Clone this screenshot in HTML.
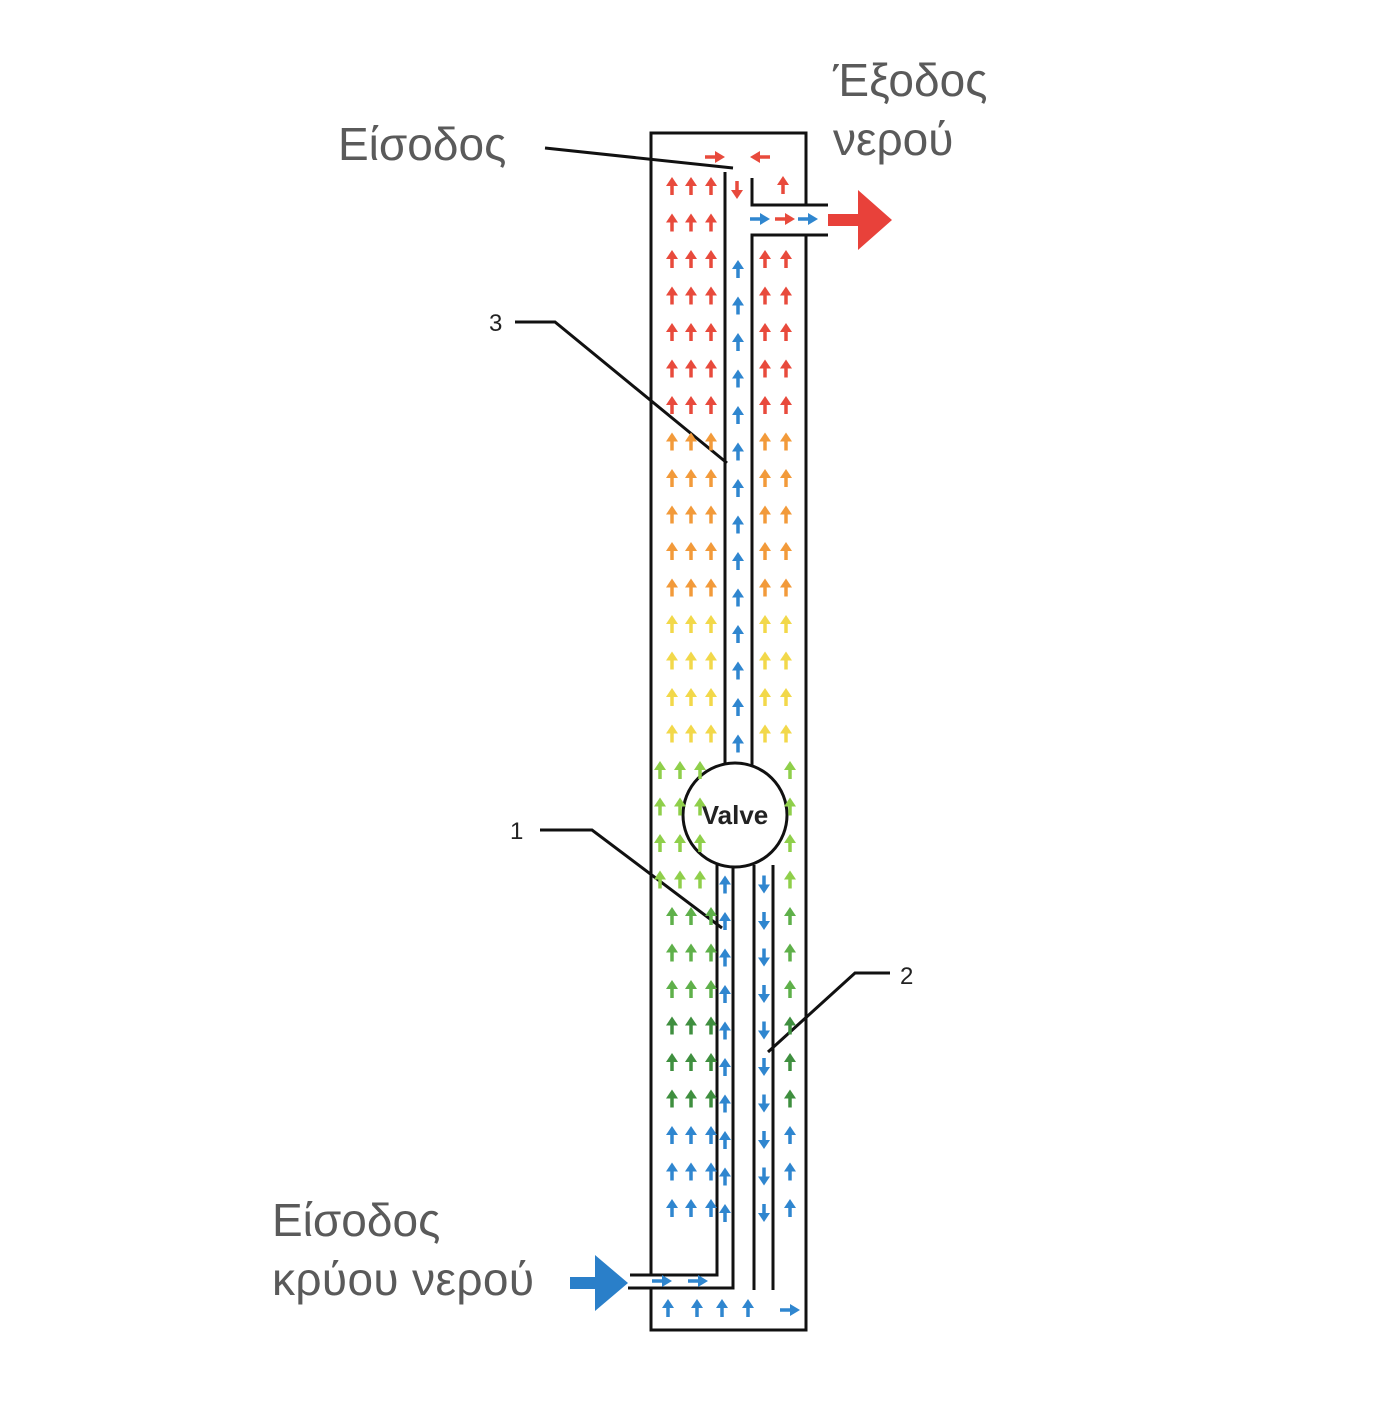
<!DOCTYPE html>
<html><head><meta charset="utf-8"><style>
html,body{margin:0;padding:0;background:#fff;}
svg text{font-family:"Liberation Sans","DejaVu Sans",sans-serif;}
</style></head><body>
<svg id="s" width="1400" height="1400" viewBox="0 0 1400 1400" xmlns="http://www.w3.org/2000/svg">
<rect width="1400" height="1400" fill="#fff"/>
<g fill="#5a5a5a" font-size="46">
<text x="833" y="96">Έξοδος</text>
<text x="833" y="155">νερού</text>
<text x="338" y="160">Είσοδος</text>
<text x="272" y="1236">Είσοδος</text>
<text x="272" y="1295" textLength="262">κρύου νερού</text>
</g>
<g fill="#222" font-size="24">
<text x="489" y="331">3</text>
<text x="510" y="839">1</text>
<text x="900" y="984">2</text>
</g>
<g stroke="#111" stroke-width="3" fill="none">
<path d="M651 1275 V133 H806 V205"/>
<path d="M806 235 V1330 H651 V1288"/>
<line x1="725" y1="172" x2="725" y2="770"/>
<path d="M752 178 V205 H828"/>
<path d="M828 235 H752 V770"/>
<path d="M545 148 L733 168"/>
<path d="M515 322 H555 L727 463"/>
<path d="M540 830 H592 L722 928"/>
<path d="M890 973 H855 L768 1052"/>
<path d="M630 1275 H717 V865"/>
<path d="M628 1288 H733 V865"/>
<line x1="754" y1="865" x2="754" y2="1290"/>
<line x1="773" y1="865" x2="773" y2="1290"/>
<circle cx="735" cy="815" r="52" fill="#fff"/>
</g>
<text x="735" y="824" font-size="26" font-weight="bold" text-anchor="middle" fill="#222">Valve</text>
<path d="M828 214 H858 V190 L892 220 L858 250 V226 H828 Z" fill="#e8413a"/>
<path d="M570 1277 H595 V1255 L628 1283 L595 1311 V1289 H570 Z" fill="#2a7fc9"/>
<g id="arr"></g>
</svg>
<script>
var g=document.getElementById('arr'),h='';
function up(x,y,c,d){
  var t=y-9*d,b=y+9*d;
  h+='<line x1="'+x+'" y1="'+b+'" x2="'+x+'" y2="'+(y-2*d)+'" stroke="'+c+'" stroke-width="3.5"/>';
  h+='<path d="M'+(x-6)+' '+(y)+' L'+x+' '+t+' L'+(x+6)+' '+(y)+'Z" fill="'+c+'"/>';
}
function rt(x,y,c,d){
  h+='<line x1="'+(x-10*d)+'" y1="'+y+'" x2="'+(x+2*d)+'" y2="'+y+'" stroke="'+c+'" stroke-width="3.5"/>';
  h+='<path d="M'+(x)+' '+(y-6)+' L'+(x+10*d)+' '+y+' L'+(x)+' '+(y+6)+'Z" fill="'+c+'"/>';
}
function col(y){
  if(y<440)return '#e84a3c';
  if(y<610)return '#f29a3a';
  if(y<750)return '#f2d84a';
  if(y<900)return '#8fcf4a';
  if(y<1000)return '#5fb04a';
  if(y<1110)return '#3f8f3f';
  return '#2f86cf';
}
for(var y=186;y<=1230;y+=36.5){
  var c=col(y);
  var L=[672,691,711];
  if(y>=760&&y<=900)L=[660,680,700];
  L.forEach(function(x){up(x,y,c,1);});
  if(y>240&&y<760){[765,786].forEach(function(x){up(x,y,c,1);});}
  if(y>=760){up(790,y,c,1);}
  if(y>240&&y<760)up(738,y+10,'#2f86cf',1);
  if(y>870)up(725,y+5,'#2f86cf',1);
  if(y>870)up(764,y+5,'#2f86cf',-1);
}
up(783,185,'#e84a3c',1);
up(737,190,'#e84a3c',-1);
rt(715,157,'#e84a3c',1);
rt(760,157,'#e84a3c',-1);
rt(760,219,'#2f86cf',1);rt(785,219,'#e84a3c',1);rt(808,219,'#2f86cf',1);
rt(662,1281,'#2f86cf',1);rt(698,1281,'#2f86cf',1);
[668,697,722,748].forEach(function(x){up(x,1308,'#2f86cf',1);});
rt(790,1310,'#2f86cf',1);
g.innerHTML=h;
</script>
</body></html>
